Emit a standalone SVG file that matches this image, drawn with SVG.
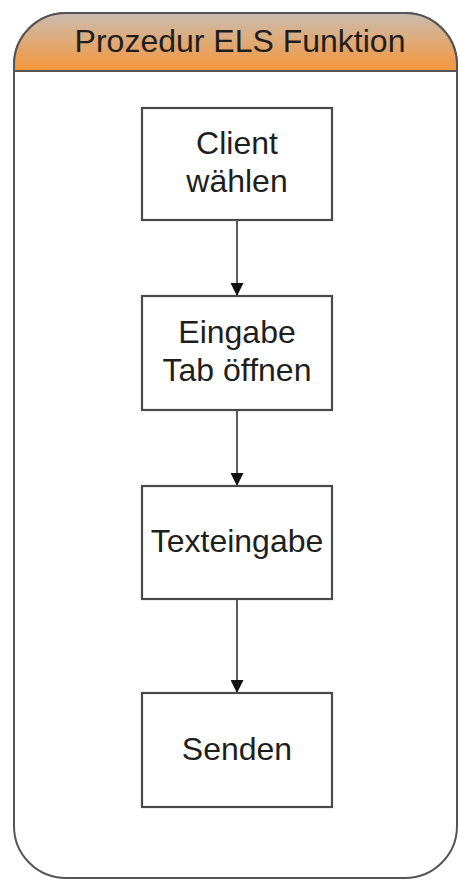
<svg xmlns="http://www.w3.org/2000/svg" width="459" height="880" viewBox="0 0 459 880">
  <defs>
    <linearGradient id="hdrGrad" x1="0" y1="0" x2="0" y2="1">
      <stop offset="0" stop-color="#c9bcb0"/>
      <stop offset="1" stop-color="#f5963a"/>
    </linearGradient>
    <marker id="arrow" markerWidth="13" markerHeight="13" refX="13" refY="6.5" orient="auto" markerUnits="userSpaceOnUse">
      <path d="M0,0 L13,6.5 L0,13 Z" fill="#111"/>
    </marker>
    <style>
      .frame { fill: #ffffff; stroke: #555; stroke-width: 2; }
      .box { fill: #ffffff; stroke: #4a4a4a; stroke-width: 2.2; }
      .lbl { font-family: "Liberation Sans", Arial, sans-serif; font-size: 32px; fill: #1e1e1e; text-anchor: middle; }
      .edge { stroke: #333; stroke-width: 1.6; fill: none; marker-end: url(#arrow); }
    </style>
  </defs>

  <!-- swimlane container -->
  <g id="lane">
    <rect class="frame" x="14" y="13" width="443" height="865" rx="52" ry="52"/>
    <path d="M14,71 V65 A52,52 0 0 1 66,13 H405 A52,52 0 0 1 457,65 V71 Z" fill="url(#hdrGrad)" stroke="#555" stroke-width="2"/>
    <text class="lbl" x="240" y="52">Prozedur ELS Funktion</text>
  </g>

  <!-- connectors -->
  <g id="connectors">
    <line class="edge" x1="237" y1="220" x2="237" y2="296"/>
    <line class="edge" x1="237" y1="410" x2="237" y2="486"/>
    <line class="edge" x1="237" y1="599" x2="237" y2="693"/>
  </g>

  <g id="node-client">
    <rect class="box" x="142" y="108" width="190" height="112"/>
    <text class="lbl" x="237" y="154">Client</text>
    <text class="lbl" x="237" y="192">wählen</text>
  </g>

  <g id="node-eingabe">
    <rect class="box" x="142" y="296" width="190" height="114"/>
    <text class="lbl" x="237" y="343">Eingabe</text>
    <text class="lbl" x="237" y="381">Tab öffnen</text>
  </g>

  <g id="node-texteingabe">
    <rect class="box" x="142" y="486" width="190" height="113"/>
    <text class="lbl" x="237" y="552">Texteingabe</text>
  </g>

  <g id="node-senden">
    <rect class="box" x="142" y="693" width="190" height="114"/>
    <text class="lbl" x="237" y="760">Senden</text>
  </g>
</svg>
